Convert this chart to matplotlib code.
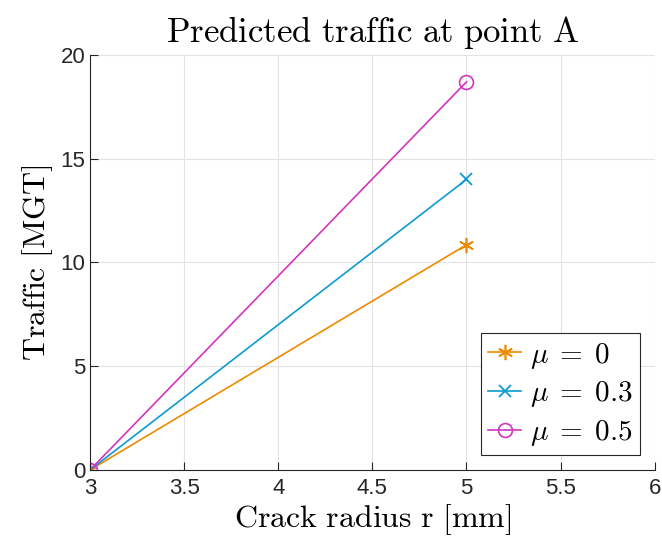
import matplotlib
matplotlib.use("Agg")
import matplotlib.pyplot as plt

plt.rcParams['mathtext.fontset'] = 'cm'
plt.rcParams['font.family'] = ['Liberation Sans', 'DejaVu Sans']

radius = [3, 5]
traffic_mu0 = [0, 10.85]
traffic_mu03 = [0, 14.0]
traffic_mu05 = [0, 18.7]
x_ticks = [3, 3.5, 4, 4.5, 5, 5.5, 6]
x_tick_labels = ['3', '3.5', '4', '4.5', '5', '5.5', '6']
y_ticks = [0, 5, 10, 15, 20]

fig = plt.figure(figsize=(6.62, 5.49), dpi=100)
ax = fig.add_axes([0.136, 0.144, 0.853, 0.756])

ax.plot(radius, traffic_mu0, color='#EE8A00', marker=(6, 2, 0), markersize=11,
        markeredgewidth=1.2, lw=1.2, label=r'$\mu \;=\; 0$')
ax.plot(radius, traffic_mu03, color='#0C9BD0', marker='x', markersize=9,
        markeredgewidth=1.3, lw=1.2, label=r'$\mu \;=\; 0.3$')
ax.plot(radius, traffic_mu05, color='#D235C0', marker='o', markersize=10,
        markerfacecolor='none', markeredgewidth=1.2, lw=1.2, label=r'$\mu \;=\; 0.5$')

ax.set_xlim(3, 6)
ax.set_ylim(0, 20)
ax.set_xticks(x_ticks)
ax.set_xticklabels(x_tick_labels)
ax.set_yticks(y_ticks)
ax.tick_params(direction='in', labelsize=16, length=6, width=0.8, colors='#262626')
ax.tick_params(axis='x', pad=6)
ax.grid(True, color='#e3e3e3', lw=0.8)
ax.set_axisbelow(True)
for s in ['top', 'right']:
    ax.spines[s].set_visible(False)
for s in ['left', 'bottom']:
    ax.spines[s].set_color('#262626')
    ax.spines[s].set_linewidth(0.8)

ax.set_title(r'$\mathrm{Predicted\ traffic\ at\ point\ A}$', fontsize=25, pad=9)
ax.set_xlabel(r'$\mathrm{Crack\ radius\ r\ [mm]}$', fontsize=23, labelpad=2)
ax.set_ylabel(r'$\mathrm{Traffic\ [MGT]}$', fontsize=23, labelpad=4)

leg = ax.legend(loc='lower right', fontsize=21, fancybox=False, framealpha=1,
                edgecolor='#262626', handlelength=1.15, borderpad=0.25,
                labelspacing=0.3, handletextpad=0.3, borderaxespad=0.5)
leg.get_frame().set_linewidth(0.8)

fig.savefig('out.png', dpi=100)
